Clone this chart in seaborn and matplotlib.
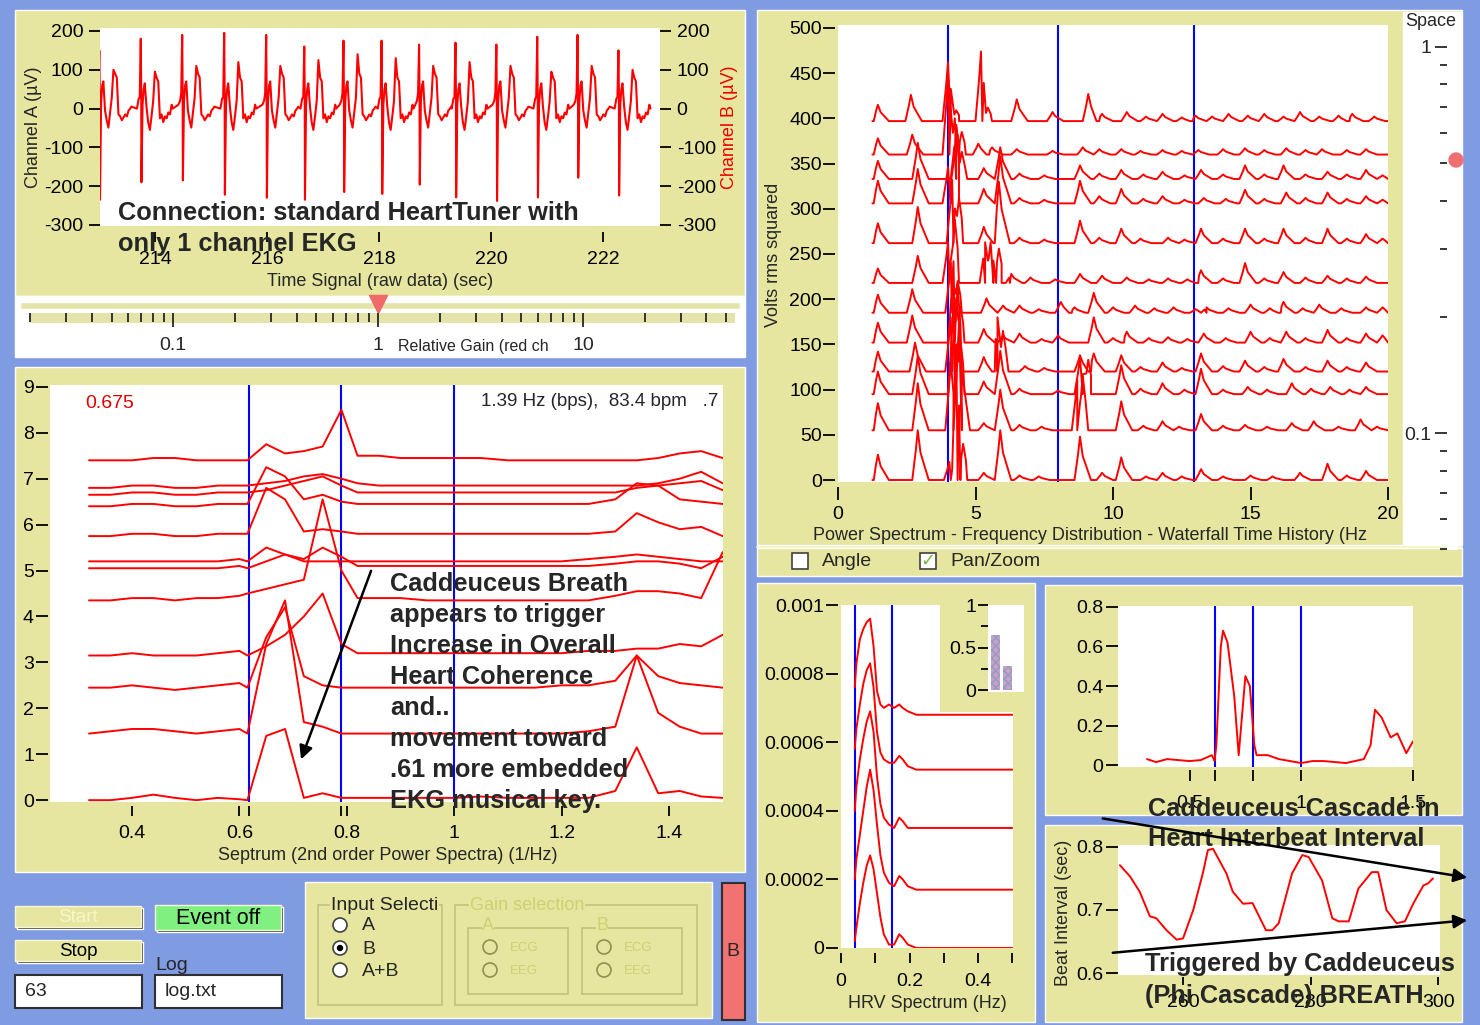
import numpy as np
import pandas as pd
import seaborn as sns
import matplotlib.pyplot as plt
from matplotlib.patches import Rectangle, Circle

sns.set_style('white')
plt.rcParams['font.family'] = ['Liberation Sans', 'DejaVu Sans']
plt.rcParams['axes.unicode_minus'] = False

W, H = 1480, 1025
BLUE = '#7f9be2'
YEL = '#e6e6a0'
RED = '#ff0000'
LBLUE = '#0000ff'

# ---------------- data ----------------
# time signal (raw ECG), beats
beat_t = [213.02, 213.76, 214.50, 215.25, 216.00, 216.68, 217.38, 218.06,
          218.73, 219.38, 220.11, 220.84, 221.56, 222.29]
r_up = [150, 180, 190, 195, 190, 160, 175, 175, 165, 170, 165, 185, 190, 150]
r_down = [-235, -190, -185, -222, -230, -235, -215, -220, -196, -229, -238, -229, -178, -224]
s_up = [100, 95, 110, 120, 110, 125, 140, 130, 110, 120, 110, 95, 110, 100]
ecg_dt = [-0.08, -0.05, -0.03, -0.012, -0.004, 0.0, 0.02, 0.04, 0.06, 0.09, 0.12, 0.15, 0.18,
          0.21, 0.24, 0.27, 0.3, 0.33, 0.36, 0.39, 0.42, 0.45, 0.48, 0.51, 0.54, 0.56]
ecg_wiggle = [
    [10, 20, 40, 0, 30, 0, 20, 60, 70, -5, -30, -49, -10, 28, 0, 90, 80, -15, -20, -30, -23, -15, -20, -5, 0, 5],
    [0, 25, 30, 0, 40, 0, 10, 50, 65, 5, -35, -55, -20, 20, 0, 80, 70, -25, -15, -35, -20, -25, -10, -15, 10, 0],
]

# septrum (2nd order power spectra) waterfall
sep_x = [0.32, 0.36, 0.40, 0.44, 0.48, 0.52, 0.56, 0.60, 0.615, 0.65, 0.685, 0.72, 0.755, 0.79, 0.82,
         0.86, 0.90, 0.95, 1.00, 1.05, 1.10, 1.15, 1.20, 1.25, 1.30, 1.34, 1.38, 1.42, 1.46, 1.50]
sep_traces = [
    [0.0, 0.0, 0.05, 0.12, 0.05, 0.0, 0.05, 0.02, 0.0, 1.4, 1.55, 0.05, 0.15, 0.05, 0.05, 0.05, 0.05, 0.05, 0.05, 0.08, 0.05, 0.05, 0.05, 0.05, 0.2, 1.15, 0.15, 0.2, 0.08, 0.05],
    [1.45, 1.5, 1.55, 1.55, 1.5, 1.45, 1.5, 1.55, 1.45, 3.4, 4.35, 1.7, 1.6, 1.45, 1.45, 1.45, 1.45, 1.45, 1.45, 1.45, 1.45, 1.45, 1.45, 1.5, 1.6, 3.15, 1.9, 1.6, 1.45, 1.45],
    [2.45, 2.45, 2.5, 2.45, 2.4, 2.45, 2.5, 2.55, 2.45, 3.55, 4.2, 2.7, 2.5, 2.45, 2.45, 2.45, 2.45, 2.45, 2.45, 2.45, 2.45, 2.45, 2.5, 2.5, 2.6, 3.15, 2.7, 2.55, 2.5, 2.45],
    [3.15, 3.15, 3.2, 3.15, 3.15, 3.15, 3.2, 3.25, 3.15, 3.35, 3.6, 4.0, 4.5, 3.4, 3.2, 3.2, 3.2, 3.2, 3.2, 3.2, 3.2, 3.2, 3.2, 3.25, 3.25, 3.3, 3.3, 3.4, 3.35, 3.6],
    [4.35, 4.35, 4.4, 4.4, 4.35, 4.4, 4.4, 4.45, 4.5, 4.6, 4.7, 4.8, 6.55, 5.0, 4.4, 4.4, 4.4, 4.35, 4.35, 4.35, 4.35, 4.35, 4.35, 4.35, 4.45, 4.55, 4.55, 4.5, 4.4, 5.4],
    [5.05, 5.05, 5.05, 5.05, 5.05, 5.05, 5.05, 5.1, 5.05, 5.2, 5.35, 5.25, 5.5, 5.3, 5.1, 5.1, 5.1, 5.1, 5.1, 5.1, 5.1, 5.1, 5.1, 5.1, 5.15, 5.2, 5.2, 5.15, 5.05, 5.3],
    [5.2, 5.2, 5.2, 5.2, 5.2, 5.2, 5.2, 5.25, 5.2, 5.5, 5.35, 5.2, 5.2, 5.2, 5.2, 5.2, 5.2, 5.2, 5.2, 5.2, 5.2, 5.2, 5.2, 5.25, 5.3, 5.35, 5.3, 5.25, 5.2, 5.2],
    [5.75, 5.75, 5.8, 5.8, 5.75, 5.75, 5.8, 5.8, 5.8, 6.8, 6.55, 5.85, 5.9, 5.85, 5.8, 5.8, 5.8, 5.8, 5.8, 5.8, 5.8, 5.8, 5.8, 5.8, 5.85, 6.25, 6.05, 5.9, 5.95, 5.75],
    [6.4, 6.4, 6.45, 6.45, 6.4, 6.4, 6.45, 6.45, 6.45, 7.25, 7.05, 6.55, 6.65, 6.5, 6.45, 6.45, 6.45, 6.45, 6.45, 6.45, 6.45, 6.45, 6.45, 6.45, 6.55, 6.9, 6.85, 6.55, 6.5, 6.45],
    [6.65, 6.65, 6.7, 6.7, 6.65, 6.65, 6.7, 6.7, 6.7, 6.75, 6.85, 6.95, 7.05, 6.85, 6.7, 6.7, 6.7, 6.7, 6.7, 6.7, 6.7, 6.7, 6.7, 6.7, 6.7, 6.8, 6.85, 6.9, 6.95, 6.75],
    [6.8, 6.8, 6.85, 6.85, 6.8, 6.8, 6.85, 6.85, 6.85, 6.9, 6.95, 7.05, 7.1, 7.0, 6.9, 6.85, 6.85, 6.85, 6.85, 6.85, 6.85, 6.85, 6.85, 6.85, 6.85, 6.85, 6.9, 7.0, 7.15, 6.9],
    [7.4, 7.4, 7.4, 7.45, 7.45, 7.4, 7.4, 7.4, 7.4, 7.75, 7.55, 7.6, 7.7, 8.5, 7.5, 7.5, 7.45, 7.45, 7.45, 7.45, 7.4, 7.4, 7.4, 7.4, 7.4, 7.4, 7.45, 7.55, 7.6, 7.45],
]
sep_marks = [0.617, 0.789, 1.0]

# power spectrum waterfall: baseline of each sweep and its peaks (Hz, height)
wf_base = [0, 55, 95, 120, 152, 185, 218, 262, 306, 333, 360, 397]
wf_peaks = [
    [(1.45, 28), (2.9, 55), (4.05, 20), (4.3, 150), (4.55, 40), (5.3, 8), (5.9, 55), (6.6, 5), (7.3, 4), (8.8, 48), (9.6, 8), (10.3, 25), (11.2, 4), (11.8, 8), (12.5, 4), (13.2, 12), (14.0, 4), (15.0, 5), (15.8, 4), (16.8, 8), (17.8, 18), (18.5, 5), (19.2, 10)],
    [(1.45, 30), (2.9, 52), (4.1, 75), (4.4, 120), (5.3, 8), (5.9, 45), (6.6, 6), (7.4, 4), (8.7, 55), (8.9, 60), (10.3, 32), (11.1, 5), (11.8, 10), (12.4, 4), (13.2, 18), (14.0, 5), (14.8, 6), (15.6, 4), (16.5, 8), (17.3, 10), (18.2, 4), (19.0, 12), (19.6, 4)],
    [(1.45, 25), (2.9, 42), (4.2, 100), (4.45, 60), (5.3, 14), (5.9, 48), (6.6, 6), (8.0, 4), (8.8, 40), (9.1, 38), (10.3, 32), (11.0, 6), (11.8, 12), (12.6, 5), (13.2, 28), (14.0, 5), (14.9, 8), (15.6, 5), (16.5, 12), (17.2, 6), (17.9, 8), (18.6, 5), (19.2, 8)],
    [(1.45, 22), (2.8, 32), (4.1, 60), (4.35, 95), (5.3, 16), (5.8, 60), (6.0, 45), (6.8, 6), (7.5, 4), (8.8, 18), (9.3, 20), (10.3, 18), (11.0, 5), (11.8, 10), (12.5, 4), (13.2, 20), (14.0, 6), (14.8, 12), (15.5, 5), (16.2, 14), (17.0, 5), (17.8, 12), (18.5, 5), (19.2, 10)],
    [(1.45, 22), (2.7, 30), (4.2, 90), (4.45, 40), (5.3, 15), (6.0, 8), (6.6, 10), (7.4, 4), (8.0, 8), (9.3, 28), (10.0, 5), (10.5, 12), (11.3, 5), (12.0, 6), (12.7, 4), (13.3, 10), (14.1, 5), (15.0, 12), (15.7, 5), (16.3, 12), (17.0, 5), (17.8, 14), (18.5, 5), (19.2, 10), (19.8, 8)],
    [(1.45, 20), (2.7, 26), (4.1, 55), (4.35, 35), (5.4, 16), (6.0, 8), (6.6, 8), (7.3, 4), (8.1, 12), (8.6, 6), (9.3, 22), (10.0, 6), (10.8, 8), (11.5, 5), (12.2, 6), (13.0, 4), (13.4, 6), (14.2, 5), (15.0, 9), (15.7, 5), (16.2, 12), (16.9, 5), (17.5, 9), (18.3, 5), (19.2, 6), (19.8, 6)],
    [(1.45, 16), (2.9, 30), (4.0, 45), (4.25, 70), (5.35, 45), (5.55, 45), (5.85, 38), (6.3, 10), (7.0, 6), (7.9, 4), (8.8, 10), (9.6, 8), (10.5, 6), (11.3, 4), (12.0, 5), (12.7, 4), (13.2, 14), (14.0, 5), (14.8, 22), (15.5, 5), (16.2, 12), (17.0, 6), (17.8, 8), (18.5, 5), (19.2, 7)],
    [(1.45, 22), (2.9, 40), (4.15, 70), (4.4, 50), (5.3, 18), (5.85, 68), (6.6, 6), (7.5, 4), (8.8, 25), (9.5, 6), (10.3, 16), (11.0, 5), (12.0, 6), (12.6, 4), (13.2, 16), (14.0, 5), (14.8, 16), (15.5, 5), (16.2, 16), (17.0, 6), (17.8, 16), (18.5, 5), (19.2, 10), (19.8, 5)],
    [(1.45, 25), (2.9, 38), (4.0, 40), (4.3, 85), (5.3, 16), (5.9, 52), (6.6, 6), (7.5, 4), (8.8, 25), (9.5, 8), (10.3, 16), (11.1, 5), (11.8, 8), (12.6, 4), (13.3, 6), (14.1, 5), (14.8, 15), (15.5, 5), (16.3, 12), (17.0, 6), (17.8, 12), (18.5, 5), (19.2, 8), (19.8, 4)],
    [(1.45, 20), (2.9, 40), (4.3, 60), (4.5, 30), (5.3, 12), (5.9, 35), (6.6, 6), (7.5, 4), (8.8, 15), (9.5, 6), (10.3, 10), (11.1, 5), (11.8, 8), (12.6, 4), (13.2, 10), (14.0, 5), (14.8, 15), (15.5, 5), (16.2, 15), (17.0, 5), (17.8, 8), (18.5, 5), (19.2, 10), (19.8, 4)],
    [(1.45, 18), (2.7, 22), (4.0, 88), (4.25, 40), (4.5, 25), (5.1, 12), (5.6, 8), (6.5, 6), (7.8, 4), (8.9, 8), (9.5, 6), (10.3, 6), (11.0, 4), (11.8, 5), (12.5, 4), (13.1, 5), (14.0, 6), (14.8, 7), (15.5, 5), (16.3, 7), (17.0, 5), (17.6, 6), (18.5, 5), (19.2, 6)],
    [(1.45, 18), (2.65, 29), (4.0, 65), (4.3, 12), (5.2, 77), (5.45, 15), (6.5, 24), (7.8, 10), (9.1, 30), (9.6, 8), (10.5, 10), (11.2, 5), (11.8, 8), (12.5, 4), (13.0, 6), (13.6, 5), (14.2, 8), (14.9, 6), (15.5, 8), (16.2, 5), (16.8, 10), (17.5, 5), (18.2, 6), (18.7, 8), (19.5, 5)],
]
# outline of a single spectral peak: offset (Hz) and fraction of its height
peak_dx = [-0.2, -0.07, 0.0, 0.1, 0.4]
peak_k = [0.0, 0.6, 1.0, 0.55, 0.0]
wf_marks = [4.0, 8.0, 12.95]

# HRV spectrum
hrv_x = [0.04, 0.045, 0.055, 0.065, 0.075, 0.085, 0.095, 0.105, 0.115, 0.125, 0.14, 0.155, 0.17, 0.18, 0.195, 0.22, 0.5]
hrv_traces = [
    [0.00002, 0.00006, 0.00013, 0.00019, 0.00024, 0.00027, 0.00023, 0.00016, 0.00009, 0.00004, 0.00001, 0.00001, 0.00004, 0.00003, 0.00001, 0.0, 0.0],
    [0.0002, 0.00026, 0.00033, 0.0004, 0.00047, 0.00052, 0.00046, 0.00036, 0.00027, 0.00022, 0.00019, 0.00018, 0.00021, 0.0002, 0.00018, 0.00017, 0.00017],
    [0.0004, 0.00047, 0.00055, 0.00061, 0.00066, 0.00069, 0.00063, 0.0005, 0.00042, 0.00038, 0.00036, 0.00035, 0.00038, 0.00037, 0.00035, 0.00035, 0.00035],
    [0.00058, 0.00064, 0.00071, 0.00077, 0.00081, 0.00083, 0.00076, 0.00063, 0.00057, 0.00055, 0.00054, 0.00054, 0.00056, 0.00055, 0.00053, 0.00052, 0.00052],
    [0.00076, 0.00083, 0.0009, 0.00093, 0.00095, 0.00096, 0.00088, 0.00075, 0.00071, 0.0007, 0.00071, 0.0007, 0.00071, 0.0007, 0.00069, 0.00068, 0.00068],
]
hrv_marks = [0.04, 0.15]
ratio_names = ['LF', 'HF']
ratio_vals = [0.65, 0.28]

# cascade spectrum (top right)
cas_x = [0.31, 0.35, 0.40, 0.45, 0.50, 0.55, 0.60, 0.612, 0.62, 0.63, 0.64, 0.65, 0.67, 0.70, 0.72, 0.75, 0.77,
         0.79, 0.80, 0.85, 0.90, 1.00, 1.05, 1.10, 1.20, 1.28, 1.31, 1.33, 1.36, 1.40, 1.43, 1.47, 1.50]
cas_y = [0.03, 0.015, 0.03, 0.025, 0.02, 0.025, 0.05, 0.02, 0.1, 0.35, 0.6, 0.68, 0.62, 0.35, 0.05, 0.45, 0.4,
         0.1, 0.05, 0.05, 0.03, 0.01, 0.02, 0.02, 0.01, 0.03, 0.1, 0.28, 0.24, 0.14, 0.16, 0.06, 0.12]
cas_marks = [0.615, 0.785, 1.0]

# beat interval history
beat_x = [250.1, 251.7, 253.2, 254.8, 255.8, 257.4, 259.0, 260.0, 261.6, 263.1, 263.9, 264.7, 266.8, 267.8,
          269.4, 270.9, 273.0, 274.0, 275.0, 277.1, 278.7, 279.7, 281.8, 283.4, 284.4, 286.0, 287.5,
          289.6, 290.6, 291.9, 293.5, 294.8, 296.1, 297.7, 298.4, 299.2]
beat_y = [0.771, 0.753, 0.729, 0.69, 0.687, 0.668, 0.653, 0.655, 0.7, 0.758, 0.795, 0.797, 0.758, 0.729,
          0.71, 0.711, 0.668, 0.668, 0.679, 0.758, 0.787, 0.784, 0.747, 0.687, 0.682, 0.682, 0.734,
          0.76, 0.76, 0.7, 0.679, 0.682, 0.71, 0.739, 0.742, 0.75]

# ---------------- figure ----------------
fig = plt.figure(figsize=(W / 100, H / 100), dpi=100)
fig.patch.set_facecolor(BLUE)


def box(x0, y0, x1, y1):
    return [x0 / W, 1 - y1 / H, (x1 - x0) / W, (y1 - y0) / H]


bg = fig.add_axes([0, 0, 1, 1], zorder=-5)
bg.set_xlim(0, W)
bg.set_ylim(H, 0)
bg.axis('off')


def pane(x0, y0, x1, y1, color=YEL, **kw):
    bg.add_patch(Rectangle((x0, y0), x1 - x0, y1 - y0, facecolor=color, **kw))


pane(15, 10, 745, 296)
pane(15, 296, 745, 357, 'white')
pane(20, 302, 740, 309, '#e4e4aa')
pane(15, 367, 745, 872)
pane(757, 10, 1462, 545)
pane(757, 548, 1462, 576)
pane(1403, 12, 1461, 545, 'white')
pane(757, 583, 1035, 1022)
pane(1045, 585, 1462, 815)
pane(1045, 825, 1462, 1022)
pane(305, 882, 712, 1018)
pane(722, 883, 745, 1020, '#f27272', edgecolor='#303030', lw=1.5)

ov = fig.add_axes([0, 0, 1, 1], zorder=10)
ov.set_xlim(0, W)
ov.set_ylim(H, 0)
ov.axis('off')
ov.patch.set_alpha(0)


def style(ax, xoff=3, xlen=7.5, xpad=3, yoff=0, ylen=8.5, ypad=1.5):
    for s in ax.spines.values():
        s.set_visible(False)
    ax.set_facecolor('white')
    ax.spines['bottom'].set_position(('outward', xoff))
    ax.spines['left'].set_position(('outward', yoff))
    ax.tick_params(which='both', direction='out', width=1.3, colors='black', labelsize=14,
                   bottom=True, left=True)
    ax.tick_params(axis='x', which='both', length=xlen, pad=xpad)
    ax.tick_params(axis='y', which='both', length=ylen, pad=ypad)
    ax.set_xlabel('')
    ax.set_ylabel('')


def bold_lines(x, y0, step, lines, fs=18.3):
    for i, line in enumerate(lines):
        ov.text(x, y0 + i * step, line, fontsize=fs, fontweight='bold', va='baseline')


# --- time signal ---
ecg_x, ecg_y = [], []
for i, t in enumerate(beat_t):
    vals = list(ecg_wiggle[i % 2])
    vals[3], vals[5], vals[14] = r_up[i], r_down[i], s_up[i]
    ecg_x += [t + d for d in ecg_dt]
    ecg_y += vals
ax1 = fig.add_axes(box(100, 28, 660, 226))
sns.lineplot(x=ecg_x, y=ecg_y, sort=False, estimator=None, color=RED, lw=1.5, ax=ax1)
ax1.set_xlim(213.02, 223.02)
ax1.set_ylim(-302.6, 207.7)
ax1.set_yticks([-300, -200, -100, 0, 100, 200])
ax1.set_xticks([214, 216, 218, 220, 222])
style(ax1, xoff=4.3, xlen=7.2, xpad=6.5, ylen=8, ypad=4)
ax1.tick_params(axis='y', right=True, labelright=True)
ov.text(33, 127, 'Channel A (µV)', rotation=90, ha='center', va='center', fontsize=13)
ov.text(729, 127, 'Channel B (µV)', rotation=90, ha='center', va='center', fontsize=13, color='#ee0000')
ov.text(380, 281, 'Time Signal (raw data) (sec)', ha='center', va='center', fontsize=13)
bold_lines(118, 220, 31, ['Connection: standard HeartTuner with', 'only 1 channel EKG'])

# --- relative gain slider ---
axs = fig.add_axes(box(30, 313, 735, 323))
axs.set_xscale('log')
axs.set_xlim(0.02006, 55.1)
axs.set_yticks([])
for s in axs.spines.values():
    s.set_visible(False)
axs.set_facecolor('#e4e4aa')
axs.set_xticks([0.1, 1, 10])
axs.set_xticklabels(['0.1', '1', '10'])
axs.set_xticks([m * d for d in (0.01, 0.1, 1, 10) for m in range(2, 10) if 0.02 <= m * d <= 55], minor=True)
axs.xaxis.set_minor_formatter(plt.NullFormatter())
axs.tick_params(which='both', direction='in', width=1.3, labelsize=14, pad=10,
                top=True, bottom=False, labelbottom=True, labeltop=False)
axs.tick_params(which='major', length=10)
axs.tick_params(which='minor', length=6.5)
bg.scatter([378], [304], marker='v', s=170, color='#f06a6a', zorder=5)
ov.text(398, 347, 'Relative Gain (red ch', fontsize=11.5, va='center')

# --- septrum ---
sep = pd.DataFrame([(k, x, v) for k, tr in enumerate(sep_traces) for x, v in zip(sep_x, tr)],
                   columns=['sweep', 'x', 'y'])
ax2 = fig.add_axes(box(50, 385, 723, 802))
sns.lineplot(data=sep, x='x', y='y', units='sweep', estimator=None, sort=False, color=RED, lw=1.4, ax=ax2)
for m in sep_marks:
    ax2.axvline(m, color=LBLUE, lw=1.5, zorder=0)
ax2.set_xlim(0.2473, 1.5006)
ax2.set_ylim(-0.04, 9.04)
ax2.set_yticks(range(10))
ax2.set_xticks([0.4, 0.6, 0.8, 1.0, 1.2, 1.4])
ax2.set_xticklabels(['0.4', '0.6', '0.8', '1', '1.2', '1.4'])
ax2.set_xticks(sep_marks[:2], minor=True)
style(ax2, xoff=3, xlen=7.5, xpad=6, yoff=1.5, ylen=8.6, ypad=1.5)
ax2.annotate('', xy=(0.713, 0.83), xytext=(0.847, 5.05),
             arrowprops=dict(arrowstyle='-|>', color='black', lw=1.8, mutation_scale=20))
ov.text(85, 403, '0.675', color='#e00000', fontsize=14, va='center')
ov.text(718, 401, '1.39 Hz (bps),  83.4 bpm   .7', fontsize=13.5, ha='right', va='center')
ov.text(388, 856, 'Septrum (2nd order Power Spectra) (1/Hz)', ha='center', va='center', fontsize=13)
bold_lines(390, 591, 31, ['Caddeuceus Breath', 'appears to trigger', 'Increase in Overall',
                          'Heart Coherence', 'and..', 'movement toward', '.61 more embedded',
                          'EKG musical key.'])

# --- power spectrum waterfall ---
rows = []
for k, (base, peaks) in enumerate(zip(wf_base, wf_peaks)):
    pts = [(1.3, base), (20.0, base)]
    for f, h in peaks:
        pts += [(f + dx, base + kk * h) for dx, kk in zip(peak_dx, peak_k)]
    pts.sort()
    rows += [(k, f, v) for f, v in pts if f <= 20.0]
wf = pd.DataFrame(rows, columns=['sweep', 'freq', 'power'])
ax3 = fig.add_axes(box(838, 25, 1388, 482))
sns.lineplot(data=wf, x='freq', y='power', units='sweep', estimator=None, sort=False, color=RED, lw=1.4, ax=ax3)
for m in wf_marks:
    ax3.axvline(m, color=LBLUE, lw=1.5, zorder=0)
ax3.set_xlim(0, 20)
ax3.set_ylim(-2.2, 503.3)
ax3.set_yticks(range(0, 501, 50))
ax3.set_xticks([0, 5, 10, 15, 20])
style(ax3, xoff=3.6, xlen=9.4, xpad=4.5, yoff=2, ylen=8.6, ypad=1)
ov.text(773, 255, 'Volts rms squared', rotation=90, ha='center', va='center', fontsize=13)
ov.text(813, 535, 'Power Spectrum - Frequency Distribution - Waterfall Time History (Hz', va='center', fontsize=13)

# space scale
ax4 = fig.add_axes(box(1447, 35, 1458, 550))
ax4.set_yscale('log')
ax4.set_ylim(0.0498, 1.074)
ax4.set_xticks([])
for s in ax4.spines.values():
    s.set_visible(False)
ax4.set_yticks([0.1, 1])
ax4.set_yticklabels(['0.1', '1'])
ax4.set_yticks([m * d for d in (0.01, 0.1) for m in range(2, 10) if 0.05 <= m * d < 1], minor=True)
ax4.yaxis.set_minor_formatter(plt.NullFormatter())
ax4.tick_params(which='both', direction='out', width=1.3, labelsize=14, pad=2, left=True)
ax4.tick_params(which='major', length=9)
ax4.tick_params(which='minor', length=5)
ov.text(1405, 22, 'Space', fontsize=13, va='center')
ov.add_patch(Circle((1456, 160), 7, color='#f07070'))

# checkboxes
bg.plot([757, 1462], [546.5, 546.5], color='#f4f4cc', lw=1.5)
for cx, lab, checked in [(792, 'Angle', False), (920, 'Pan/Zoom', True)]:
    bg.add_patch(Rectangle((cx, 553), 16, 16, facecolor='white', edgecolor='#404040', lw=1.2))
    if checked:
        ov.text(cx + 8, 561, '✓', color='#7ab648', fontsize=13, ha='center', va='center',
                family=['DejaVu Sans'], fontweight='bold')
    ov.text(cx + 30, 562, lab, fontsize=14, va='center')

# --- HRV spectrum ---
hrv = pd.DataFrame([(k, x, v) for k, tr in enumerate(hrv_traces) for x, v in zip(hrv_x, tr)],
                   columns=['sweep', 'hz', 'power'])
ax5 = fig.add_axes(box(841, 605, 1013, 948))
sns.lineplot(data=hrv, x='hz', y='power', units='sweep', estimator=None, sort=False, color=RED, lw=1.4, ax=ax5)
for m in hrv_marks:
    ax5.axvline(m, color=LBLUE, lw=1.5, zorder=0)
ax5.set_xlim(0, 0.502)
ax5.set_ylim(0, 0.001)
ax5.set_yticks([0, 0.0002, 0.0004, 0.0006, 0.0008, 0.001])
ax5.set_yticklabels(['0', '0.0002', '0.0004', '0.0006', '0.0008', '0.001'])
ax5.set_xticks([0, 0.2, 0.4])
ax5.set_xticklabels(['0', '0.2', '0.4'])
ax5.set_xticks([0.1, 0.3, 0.5], minor=True)
style(ax5, xoff=3.6, xlen=7.2, xpad=7.5, yoff=2, ylen=9, ypad=1.5)
ov.text(927, 1004, 'HRV Spectrum (Hz)', ha='center', va='center', fontsize=13)

inset_bg = fig.add_axes(box(940, 585, 1033, 712), zorder=2)
inset_bg.set_facecolor(YEL)
inset_bg.set_xticks([])
inset_bg.set_yticks([])
for s in inset_bg.spines.values():
    s.set_visible(False)
ax6 = fig.add_axes(box(988, 605, 1024, 692), zorder=3)
sns.barplot(x=ratio_names, y=ratio_vals, color='#d49ab8', width=0.75, ax=ax6)
for p in ax6.patches:
    p.set_hatch('xxxx')
    p.set_edgecolor('#8c9ad8')
    p.set_linewidth(0)
ax6.set_xlim(-0.625, 2.4)
ax6.set_ylim(-0.02, 1.0)
ax6.set_yticks([0, 0.5, 1])
ax6.set_yticklabels(['0', '0.5', '1'])
ax6.set_yticks([0.25, 0.75], minor=True)
style(ax6, xoff=0, ylen=7, ypad=1.5)
ax6.tick_params(axis='y', which='minor', length=5)
ax6.set_xticks([])

# --- cascade spectrum ---
ax7 = fig.add_axes(box(1118, 606, 1413, 767))
sns.lineplot(x=cas_x, y=cas_y, sort=False, estimator=None, color=RED, lw=1.4, ax=ax7)
for m in cas_marks:
    ax7.axvline(m, color=LBLUE, lw=1.5, zorder=0)
ax7.set_xlim(0.18, 1.491)
ax7.set_ylim(-0.01, 0.805)
ax7.set_yticks([0, 0.2, 0.4, 0.6, 0.8])
ax7.set_yticklabels(['0', '0.2', '0.4', '0.6', '0.8'])
ax7.set_xticks([0.5, 1.0, 1.5])
ax7.set_xticklabels(['0.5', '1', '1.5'])
ax7.set_xticks(cas_marks[:2], minor=True)
style(ax7, xoff=2, xlen=8, xpad=10, ylen=9, ypad=1.5)

# --- beat interval ---
ax8 = fig.add_axes(box(1118, 845, 1440, 975))
sns.lineplot(x=beat_x, y=beat_y, sort=False, estimator=None, color=RED, lw=1.4, ax=ax8)
ax8.set_xlim(249.8, 300.3)
ax8.set_ylim(0.597, 0.803)
ax8.set_yticks([0.6, 0.7, 0.8])
ax8.set_xticks([260, 280, 300])
style(ax8, xoff=1.5, xlen=6, xpad=6.5, ylen=9, ypad=1.5)
ov.text(1063, 913, 'Beat Interval (sec)', rotation=90, ha='center', va='center', fontsize=13)

bold_lines(1148, 816, 30, ['Caddeuceus Cascade in', 'Heart Interbeat Interval'])
bold_lines(1145, 971, 32, ['Triggered by Caddeuceus', '(Phi Cascade) BREATH'])
arrow = dict(arrowstyle='-|>', color='black', lw=1.8, mutation_scale=20)
ov.annotate('', xy=(1470, 878), xytext=(1100, 818), arrowprops=arrow)
ov.annotate('', xy=(1470, 920), xytext=(1110, 953), arrowprops=arrow)


# --- controls ---
def button(x0, y0, x1, y1, label, face=YEL, tcolor='black', fs=13.5):
    bg.add_patch(Rectangle((x0 + 2, y0 + 2), x1 - x0, y1 - y0, facecolor='#202020'))
    bg.add_patch(Rectangle((x0, y0), x1 - x0, y1 - y0, facecolor=face, edgecolor='#f8f8d8', lw=1))
    ov.text((x0 + x1) / 2, (y0 + y1) / 2 + 1, label, ha='center', va='center', fontsize=fs, color=tcolor)


button(15, 906, 141, 927, 'Start', tcolor='#f6f6c8')
button(155, 905, 281, 930, 'Event off', face='#80f080', fs=15.5)
button(15, 940, 141, 961, 'Stop')
for x0, lab in [(15, '63'), (155, 'log.txt')]:
    bg.add_patch(Rectangle((x0, 975), 127, 33, facecolor='white', edgecolor='#303030', lw=1.5))
    ov.text(x0 + 10, 992, lab, va='center', fontsize=14)
ov.text(155, 965, 'Log', va='center', fontsize=14)

FRAME = '#c2c27a'
bg.add_patch(Rectangle((318, 905), 124, 100, fill=False, edgecolor=FRAME, lw=1.2))
ov.text(331, 905, 'Input Selecti', va='center', fontsize=14,
        bbox=dict(facecolor=YEL, edgecolor='none', pad=0.5))
for yy, lab, sel in [(925, 'A', False), (948, 'B', True), (970, 'A+B', False)]:
    bg.add_patch(Circle((340, yy), 7, facecolor='white', edgecolor='#404040', lw=1.2))
    if sel:
        bg.add_patch(Circle((340, yy), 2.5, color='black'))
    ov.text(362, yy + 1, lab, va='center', fontsize=14)

PALE = '#cfcf74'
bg.add_patch(Rectangle((455, 905), 242, 100, fill=False, edgecolor=FRAME, lw=1.2))
ov.text(470, 905, 'Gain selection', va='center', fontsize=13, color=PALE,
        bbox=dict(facecolor=YEL, edgecolor='none', pad=0.5))
for fx, lab in [(468, 'A'), (582, 'B')]:
    bg.add_patch(Rectangle((fx, 928), 100, 66, fill=False, edgecolor=FRAME, lw=1.2))
    ov.text(fx + 14, 926, lab, va='center', fontsize=13, color=PALE,
            bbox=dict(facecolor=YEL, edgecolor='none', pad=0.3))
    for yy, opt in [(947, 'ECG'), (970, 'EEG')]:
        bg.add_patch(Circle((fx + 22, yy), 7, facecolor='none', edgecolor='#909050', lw=1.2))
        ov.text(fx + 42, yy + 1, opt, va='center', fontsize=9.5, color=PALE)
ov.text(733, 952, 'B', ha='center', va='center', fontsize=14)

fig.savefig('out.png', dpi=100, facecolor=fig.get_facecolor())
